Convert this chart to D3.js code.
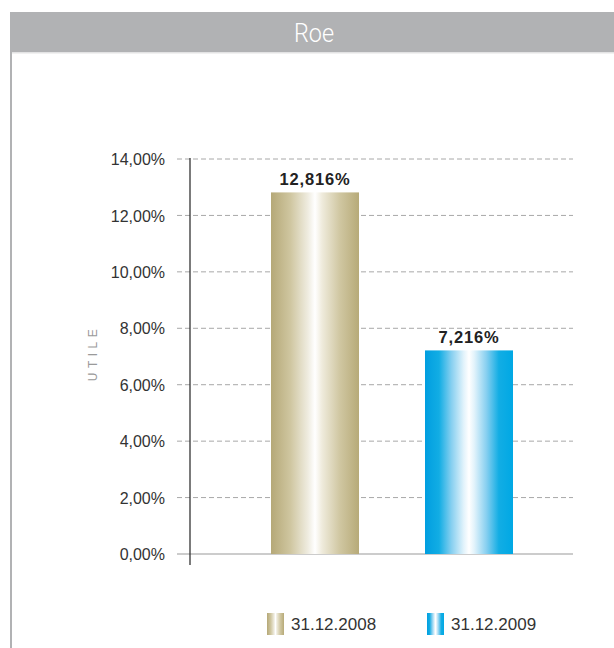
<!DOCTYPE html>
<html>
<head>
<meta charset="utf-8">
<script src="https://cdn.jsdelivr.net/npm/d3@7"></script>
<style>
  html, body { margin: 0; padding: 0; background: #fff; }
  svg { display: block; }
</style>
</head>
<body>
<script>
// Chart data
const title = "Roe";
const axisTitle = "UTILE";
const categories = ["31.12.2008", "31.12.2009"];
const values = [12.816, 7.216];
const valueLabels = ["12,816%", "7,216%"];
const tickValues = [0, 2, 4, 6, 8, 10, 12, 14];
const tickLabels = ["0,00%", "2,00%", "4,00%", "6,00%", "8,00%", "10,00%", "12,00%", "14,00%"];

const W = 614, H = 648;
const svg = d3.select("body").append("svg").attr("width", W).attr("height", H);
const defs = svg.append("defs");

// Metallic gradients for each series
const gradients = [
  { id: "gold", stops: [[0, "#b5a877"], [0.22, "#cfc6a0"], [0.42, "#efece0"], [0.5, "#ffffff"], [0.58, "#efebdc"], [0.78, "#d0c7a2"], [1, "#b7aa78"]] },
  { id: "blue", stops: [[0, "#009ee0"], [0.16, "#12ade4"], [0.3, "#86cff0"], [0.44, "#e2f3fb"], [0.5, "#ffffff"], [0.56, "#e2f3fb"], [0.7, "#86cff0"], [0.84, "#12ade4"], [1, "#00a8e4"]] }
];
gradients.forEach(g => {
  const lg = defs.append("linearGradient").attr("id", g.id)
    .attr("x1", "0%").attr("x2", "100%").attr("y1", "0%").attr("y2", "0%");
  g.stops.forEach(s => lg.append("stop").attr("offset", s[0]).attr("stop-color", s[1]));
});

// Panel frame: header band and left rule
svg.append("rect").attr("x", 10).attr("y", 12).attr("width", W - 10).attr("height", 40).attr("fill", "#b1b2b4");
svg.append("rect").attr("x", 10).attr("y", 52).attr("width", W - 10).attr("height", 1.5).attr("fill", "#e3e3e4");
svg.append("rect").attr("x", 10).attr("y", 52).attr("width", 2).attr("height", H - 52).attr("fill", "#b1b2b4");
svg.append("text").attr("x", 314).attr("y", 42)
  .attr("text-anchor", "middle")
  .attr("font-family", "Roboto, 'Liberation Sans', sans-serif")
  .attr("font-weight", 300).attr("font-size", 26).attr("fill", "#fff")
  .attr("transform", "translate(314,0) scale(0.9,1) translate(-314,0)")
  .text(title);

// Scales
const y = d3.scaleLinear().domain([0, 14]).range([554, 159]);
const x = d3.scaleBand().domain(categories).range([194, 590]).paddingInner(0.4286).paddingOuter(0.5);

const font = "'Liberation Sans', Arial, Helvetica, sans-serif";

// Gridlines
const grid = svg.append("g");
grid.selectAll("line").data(tickValues.filter(v => v > 0)).join("line")
  .attr("x1", 177).attr("x2", 573)
  .attr("y1", d => y(d)).attr("y2", d => y(d))
  .attr("stroke", "#a8a8a8").attr("stroke-width", 1).attr("stroke-dasharray", "5,3");
grid.append("line").attr("x1", 177).attr("x2", 573).attr("y1", y(0)).attr("y2", y(0))
  .attr("stroke", "#999").attr("stroke-width", 1);

// Y axis
const yAxis = d3.axisLeft(y).tickValues(tickValues)
  .tickFormat((d, i) => tickLabels[i]).tickSize(0).tickPadding(25);
const ag = svg.append("g").attr("transform", "translate(190,0)").call(yAxis);
ag.select(".domain").remove();
ag.selectAll("text").attr("font-family", font).attr("font-size", 16).attr("fill", "#333").attr("dy", "0.35em");
svg.append("line").attr("x1", 190).attr("x2", 190).attr("y1", 158).attr("y2", 565)
  .attr("stroke", "#333").attr("stroke-width", 1.3);

// Axis title
svg.append("text")
  .attr("transform", "translate(97,353) rotate(-90)")
  .attr("text-anchor", "middle")
  .attr("font-family", font).attr("font-size", 12).attr("letter-spacing", 4.5)
  .attr("fill", "#9a9a9a").text(axisTitle);

// Bars
const fills = ["url(#gold)", "url(#blue)"];
svg.append("g").selectAll("rect").data(values).join("rect")
  .attr("x", (d, i) => x(categories[i]))
  .attr("width", x.bandwidth())
  .attr("y", d => y(d))
  .attr("height", d => y(0) - y(d))
  .attr("fill", (d, i) => fills[i]);

// Value labels
svg.append("g").selectAll("text").data(values).join("text")
  .attr("x", (d, i) => x(categories[i]) + x.bandwidth() / 2)
  .attr("y", d => y(d) - 7)
  .attr("text-anchor", "middle")
  .attr("font-family", font).attr("font-weight", "bold").attr("font-size", 16.5)
  .attr("letter-spacing", 0.8).attr("fill", "#222")
  .text((d, i) => valueLabels[i]);

// Legend
const legendX = [267, 427];
const lg = svg.append("g").selectAll("g").data(categories).join("g")
  .attr("transform", (d, i) => `translate(${legendX[i]},613)`);
lg.append("rect").attr("width", 17).attr("height", 22).attr("fill", (d, i) => fills[i]);
lg.append("text").attr("x", 24).attr("y", 16.5)
  .attr("font-family", font).attr("font-size", 17).attr("fill", "#333")
  .text(d => d);
</script>
</body>
</html>
